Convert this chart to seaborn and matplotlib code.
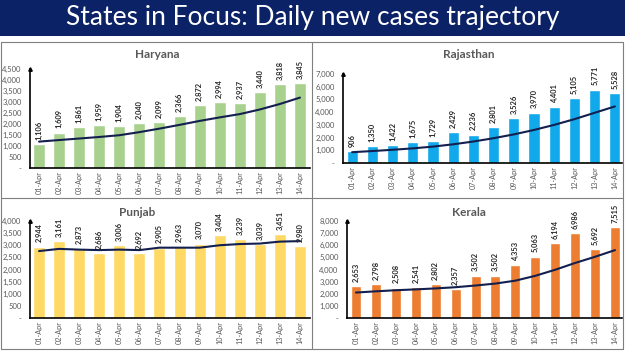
import matplotlib.pyplot as plt
import seaborn as sns
import pandas as pd
import numpy as np
from matplotlib.patches import Rectangle
from matplotlib.lines import Line2D
from matplotlib.ticker import FuncFormatter, MultipleLocator

# ---- data ----
dates = ["01-Apr", "02-Apr", "03-Apr", "04-Apr", "05-Apr", "06-Apr", "07-Apr",
         "08-Apr", "09-Apr", "10-Apr", "11-Apr", "12-Apr", "13-Apr", "14-Apr"]

haryana = [1106, 1609, 1861, 1959, 1904, 2040, 2099, 2366, 2872, 2994, 2937, 3440, 3818, 3845]
haryana_trend = [1200, 1270, 1340, 1410, 1490, 1630, 1790, 1960, 2140, 2300, 2450, 2660, 2910, 3200]

rajasthan = [906, 1350, 1422, 1675, 1729, 2429, 2236, 2801, 3526, 3970, 4401, 5105, 5771, 5528]
rajasthan_trend = [850, 940, 1040, 1150, 1290, 1470, 1690, 1950, 2250, 2600, 3000, 3450, 3950, 4450]

punjab = [2944, 3161, 2873, 2686, 3006, 2692, 2905, 2963, 3070, 3404, 3239, 3039, 3451, 2980]
punjab_trend = [2760, 2850, 2820, 2800, 2820, 2800, 2900, 2900, 2900, 3000, 3050, 3070, 3150, 3170]

kerala = [2653, 2798, 2508, 2541, 2802, 2357, 3502, 3502, 4353, 5063, 6194, 6986, 5692, 7515]
kerala_trend = [2100, 2200, 2290, 2360, 2440, 2540, 2680, 2840, 3080, 3480, 3980, 4540, 5050, 5600]

sns.set_style("white")
plt.rcParams['font.family'] = ['Lato', 'DejaVu Sans']

W, H = 625, 351
fig = plt.figure(figsize=(6.25, 3.51), dpi=100)


def px_axes(left, right, top, bottom):
    return fig.add_axes([left / W, 1 - bottom / H, (right - left) / W, (bottom - top) / H])


def panel(rect, name, values, trend, color, ymax, step, bar_w, xlim_r, title_xy):
    ax = px_axes(*rect)
    df = pd.DataFrame({"date": dates, "cases": values})
    sns.barplot(data=df, x="date", y="cases", color=color, width=bar_w,
                saturation=1, ax=ax)
    sns.lineplot(x=np.arange(len(trend)), y=trend, color="#13204f", linewidth=1.5, ax=ax)
    ax.set_xlim(-0.45, xlim_r)
    ax.set_ylim(0, ymax)
    ax.yaxis.set_major_locator(MultipleLocator(step))
    ax.yaxis.set_major_formatter(FuncFormatter(lambda v, p: "-" if v == 0 else f"{v:,.0f}"))
    ax.set_xlabel("")
    ax.set_ylabel("")
    ax.bar_label(ax.containers[0], labels=[f"{v:,}" for v in values], rotation=90,
                 padding=3, fontsize=5.4, fontweight="bold", color="#262626")
    ax.tick_params(axis="x", labelrotation=90, labelsize=5.2, colors="#595959", length=0, pad=2)
    ax.tick_params(axis="y", labelsize=5.5, colors="#595959", length=0, pad=6)
    sns.despine(ax=ax)
    for s in ("left", "bottom"):
        ax.spines[s].set_color("black")
        ax.spines[s].set_linewidth(1.2)
    ax.plot(0, 1.0, marker="^", color="black", markersize=2.5, transform=ax.transAxes, clip_on=False)
    fig.text(title_xy[0] / W, 1 - title_xy[1] / H, name, ha="center", va="center",
             fontsize=8.5, fontweight="bold", color="#595959")
    return ax


panel((30, 310, 69, 168), "Haryana", haryana, haryana_trend, "#a9d18e", 4500, 500, 0.6, 13.5, (157, 55))
panel((343, 622, 74, 163), "Rajasthan", rajasthan, rajasthan_trend, "#12a9ec", 7000, 1000, 0.55, 13.35, (469, 55))
panel((30, 310, 221, 318), "Punjab", punjab, punjab_trend, "#ffd966", 4000, 500, 0.6, 13.5, (137, 212))
panel((347, 622, 221, 318), "Kerala", kerala, kerala_trend, "#ed7d31", 8000, 1000, 0.5, 13.35, (469, 212))

# header band
fig.patches.append(Rectangle((0, 1 - 36 / H), 1, 36 / H, transform=fig.transFigure,
                             facecolor="#0c2266", edgecolor="none", zorder=0))
fig.text(0.5, 1 - 18 / H, "States in Focus: Daily new cases trajectory", ha="center", va="center",
         fontsize=19, color="white")

# panel frames
gray = "#7f7f7f"
for (x0, y0, x1, y1) in [(1, 42, 623, 42), (1, 349, 623, 349), (1, 42, 1, 349), (623, 42, 623, 349),
                         (312, 42, 312, 349), (1, 198, 623, 198)]:
    fig.add_artist(Line2D([x0 / W, x1 / W], [1 - y0 / H, 1 - y1 / H], transform=fig.transFigure,
                          color=gray, linewidth=0.8))

fig.savefig("out.png", dpi=100)
